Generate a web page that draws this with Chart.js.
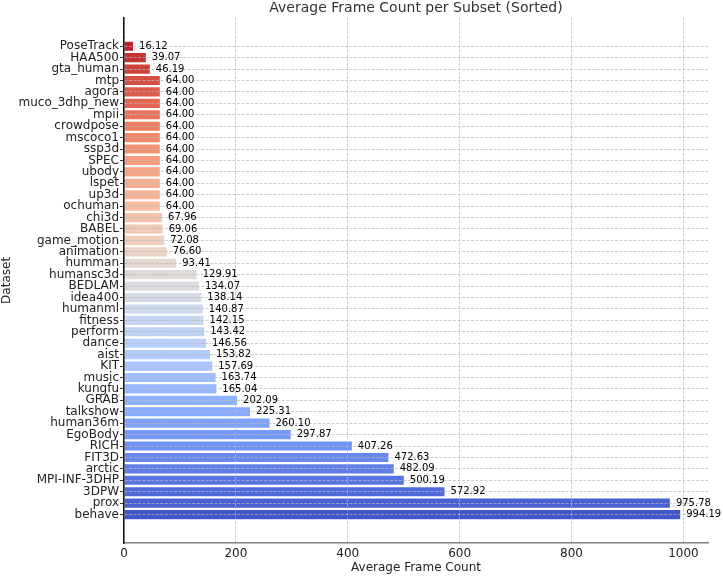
<!DOCTYPE html>
<html>
<head>
<meta charset="utf-8">
<script src="https://cdn.jsdelivr.net/npm/chart.js@4"></script>
<style>
  html, body { margin: 0; padding: 0; background: #fff; }
  #wrap { width: 723px; height: 576px; }
</style>
</head>
<body>
<div id="wrap"><canvas id="bar-chart"></canvas></div>
<script>
const subsets = [
  "PoseTrack", "HAA500", "gta_human", "mtp", "agora", "muco_3dhp_new", "mpii",
  "crowdpose", "mscoco1", "ssp3d", "SPEC", "ubody", "lspet", "up3d", "ochuman",
  "chi3d", "BABEL", "game_motion", "animation", "humman", "humansc3d", "BEDLAM",
  "idea400", "humanml", "fitness", "perform", "dance", "aist", "KIT", "music",
  "kungfu", "GRAB", "talkshow", "human36m", "EgoBody", "RICH", "FIT3D", "arctic",
  "MPI-INF-3DHP", "3DPW", "prox", "behave",
];
const frameCounts = [
  16.12, 39.07, 46.19, 64.0, 64.0, 64.0, 64.0,
  64.0, 64.0, 64.0, 64.0, 64.0, 64.0, 64.0, 64.0,
  67.96, 69.06, 72.08, 76.6, 93.41, 129.91, 134.07,
  138.14, 140.87, 142.15, 143.42, 146.56, 153.82, 157.69, 163.74,
  165.04, 202.09, 225.31, 260.1, 297.87, 407.26, 472.63, 482.09,
  500.19, 572.92, 975.78, 994.19,
];
const xTicks = [0, 200, 400, 600, 800, 1000];

// coolwarm colormap stops (blue -> grey -> red)
const coolwarm = [
  [59,76,192],[68,90,204],[77,104,215],[87,117,225],[98,130,234],[108,142,241],
  [119,154,247],[130,165,251],[141,176,254],[152,185,255],[163,194,255],[174,201,253],
  [184,208,249],[194,213,244],[204,217,238],[213,219,230],[221,221,221],[229,216,209],
  [236,211,197],[241,204,184],[245,196,172],[247,187,159],[247,177,147],[247,166,134],
  [244,154,123],[241,141,111],[236,127,99],[229,112,88],[222,96,77],[213,80,66],
  [203,62,56],[192,40,47],[180,4,38],
];
function cmap(t) {
  const p = t * (coolwarm.length - 1);
  const i = Math.min(Math.floor(p), coolwarm.length - 2);
  const f = p - i;
  const c = coolwarm[i].map((v, k) => Math.round(v + (coolwarm[i + 1][k] - v) * f));
  return `rgb(${c[0]},${c[1]},${c[2]})`;
}
const n = subsets.length;
const barColors = subsets.map((_, i) => cmap(1 - (i + 1) / (n + 1)));

const font = "'DejaVu Sans', sans-serif";
const gridColor = "rgba(185,185,185,0.7)";

const valueLabels = {
  id: "valueLabels",
  afterDraw(chart) {
    const { ctx } = chart;
    const meta = chart.getDatasetMeta(0);
    ctx.save();
    ctx.font = "10px " + font;
    ctx.fillStyle = "#000";
    ctx.textAlign = "left";
    ctx.textBaseline = "middle";
    meta.data.forEach((bar, i) => {
      ctx.fillText(frameCounts[i].toFixed(2), bar.x + 6, bar.y);
    });
    ctx.restore();
  },
};

new Chart(document.getElementById("bar-chart"), {
  type: "bar",
  data: {
    datasets: [
      {
        data: frameCounts.map((v, i) => ({ x: v, y: i })),
        backgroundColor: barColors,
        borderWidth: 0,
        categoryPercentage: 1,
        barPercentage: 0.8,
      },
    ],
  },
  options: {
    indexAxis: "y",
    responsive: true,
    maintainAspectRatio: false,
    animation: false,
    devicePixelRatio: 1,
    layout: { padding: { left: 0, right: 15, top: 0, bottom: 0 } },
    scales: {
      x: {
        type: "linear",
        min: 0,
        max: Math.max(...frameCounts) * 1.05,
        afterBuildTicks: (scale) => {
          scale.ticks = xTicks.map((v) => ({ value: v }));
        },
        afterFit: (scale) => {
          scale.height = 33;
        },
        grid: { color: gridColor, lineWidth: 1, z: 1, drawTicks: false },
        border: { color: "#808080", width: 1.5, dash: [3, 1.5], z: 1 },
        ticks: {
          color: "#222",
          font: { family: font, size: 12 },
          padding: 4,
          callback: (value) => String(value),
        },
        title: {
          display: true,
          text: "Average Frame Count",
          color: "#222",
          font: { family: font, size: 12 },
          padding: { top: 0, bottom: 1 },
        },
      },
      y: {
        type: "linear",
        reverse: true,
        offset: false,
        min: -0.4 - 0.05 * (n - 0.2),
        max: n - 0.6 + 0.05 * (n - 0.2),
        afterBuildTicks: (scale) => {
          scale.ticks = subsets.map((_, i) => ({ value: i }));
        },
        afterFit: (scale) => {
          scale.width = 124;
        },
        grid: {
          offset: false,
          color: gridColor,
          lineWidth: 1,
          z: 1,
          tickLength: 4,
          tickColor: "#333",
          tickWidth: 1,
          tickBorderDash: [],
        },
        border: { color: "#111", width: 1.5, dash: [3, 1.5], z: 1 },
        ticks: {
          autoSkip: false,
          color: "#222",
          font: { family: font, size: 12 },
          padding: 1,
          callback: (value) => subsets[value],
        },
        title: {
          display: true,
          text: "Dataset",
          color: "#222",
          font: { family: font, size: 12 },
          padding: { top: 0, bottom: 0 },
        },
      },
    },
    plugins: {
      legend: { display: false },
      tooltip: { enabled: false },
      title: {
        display: true,
        fullSize: false,
        text: "Average Frame Count per Subset (Sorted)",
        color: "#333",
        font: { family: font, size: 14, weight: "normal" },
        padding: { top: 0, bottom: 1 },
      },
    },
  },
  plugins: [valueLabels],
});
</script>
</body>
</html>
